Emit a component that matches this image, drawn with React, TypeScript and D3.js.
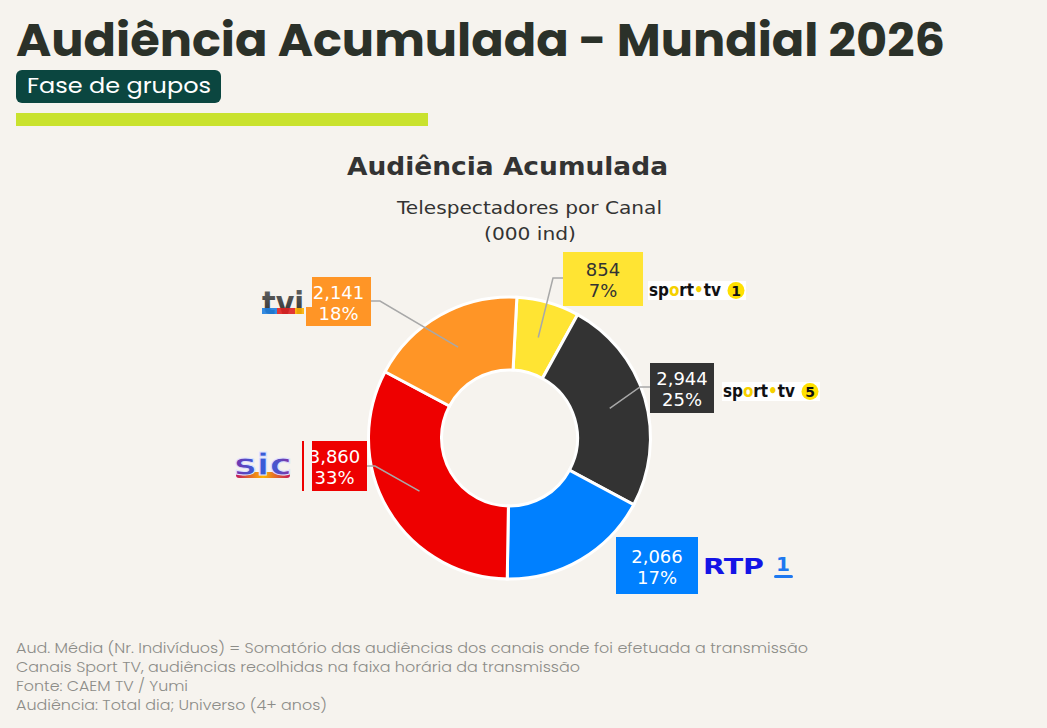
import React from "react";
import * as d3 from "d3";

const channels = ["Sport TV 1", "Sport TV 5", "RTP1", "SIC", "TVI"];
const values = [854, 2944, 2066, 3860, 2141];
const sliceColors = ["#ffe433", "#333333", "#0080ff", "#ee0000", "#ff9526"];
const labelTextColors = ["#333333", "#ffffff", "#ffffff", "#ffffff", "#ffffff"];
const footerLines = [
  "Aud. Média (Nr. Indivíduos) = Somatório das audiências dos canais onde foi efetuada a transmissão",
  "Canais Sport TV, audiências recolhidas na faixa horária da transmissão",
  "Fonte: CAEM TV / Yumi",
  "Audiência: Total dia; Universo (4+ anos)",
];

// label layout: box [x, y, w, h], elbow point (or null)
const labelLayout = [
  { box: [563, 252, 80, 54], elbow: [553, 278], side: "left" },
  { box: [650, 363, 64, 50], elbow: [640, 387], side: "left" },
  { box: [616, 537, 82, 57], elbow: null, side: "left" },
  { box: [302, 441, 65, 50], elbow: [375, 466], side: "right" },
  { box: [306, 277, 65, 49], elbow: [380, 301], side: "right" },
];

const BG = "#f6f3ee";
const VERDANA = "'DejaVu Sans', Verdana, sans-serif";

function SportTv({ x, y, n, id }: { x: number; y: number; n: string; id: string }) {
  const K = "#111111";
  const Y = "#f5d000";
  const stops: [number, string][] = [
    [0, K], [21, K], [21, Y], [31.5, Y], [31.5, K], [46.5, K], [46.5, Y], [55.5, Y], [55.5, K], [74, K],
  ];
  return (
    <g transform={`translate(${x},${y})`}>
      <defs>
        <linearGradient id={id} gradientUnits="userSpaceOnUse" x1={0} y1={0} x2={74} y2={0}>
          {stops.map(([o, c], k) => (
            <stop key={k} offset={o / 74} stopColor={c} />
          ))}
        </linearGradient>
      </defs>
      <rect x={0} y={0} width={98} height={19} fill="#ffffff" />
      <text x={1} y={15} fontFamily={VERDANA} fontWeight={700} fontSize={17} fill={`url(#${id})`} textLength={72} lengthAdjust="spacingAndGlyphs">
        sport•tv
      </text>
      <circle cx={88} cy={9.5} r={8.5} fill="#ffe000" />
      <text x={88} y={15} textAnchor="middle" fontFamily={VERDANA} fontWeight={700} fontSize={14} fill="#111">{n}</text>
    </g>
  );
}

function TviLogo({ x, y }: { x: number; y: number }) {
  return (
    <g transform={`translate(${x},${y})`}>
      <defs>
        <linearGradient id="tviG" x1="0" y1="0" x2="0" y2="1">
          <stop offset="0" stopColor="#6a6a6a" />
          <stop offset="1" stopColor="#262626" />
        </linearGradient>
        <linearGradient id="tviC" gradientUnits="userSpaceOnUse" x1={4} y1={0} x2={46} y2={0}>
          <stop offset="0" stopColor="#1e7fe0" />
          <stop offset="0.36" stopColor="#1e7fe0" />
          <stop offset="0.36" stopColor="#e02020" />
          <stop offset="0.78" stopColor="#e02020" />
          <stop offset="0.78" stopColor="#ffb000" />
          <stop offset="1" stopColor="#ffb000" />
        </linearGradient>
      </defs>
      <rect x={0} y={0} width={48} height={30} fill={BG} />
      <text x={4} y={29} fontFamily={VERDANA} fontWeight={700} fontSize={32} fill="url(#tviG)" textLength={42} lengthAdjust="spacingAndGlyphs">
        tvi
      </text>
      <rect x={4} y={23} width={42} height={6} fill="url(#tviC)" opacity={0.9} />
    </g>
  );
}

function SicLogo({ x, y }: { x: number; y: number }) {
  return (
    <g transform={`translate(${x},${y})`}>
      <defs>
        <linearGradient id="sicG" x1="0" y1="0" x2="1" y2="0">
          <stop offset="0" stopColor="#7b2fa8" />
          <stop offset="0.35" stopColor="#3b5bd6" />
          <stop offset="0.65" stopColor="#3b5bd6" />
          <stop offset="1" stopColor="#8a2f9e" />
        </linearGradient>
        <linearGradient id="sicB" x1="0" y1="0" x2="1" y2="0">
          <stop offset="0" stopColor="#c2185b" />
          <stop offset="0.5" stopColor="#ffb300" />
          <stop offset="1" stopColor="#c2185b" />
        </linearGradient>
      </defs>
      <rect x={3} y={19} width={54} height={6} rx={3} fill="url(#sicB)" />
      <text x={1} y={22} fontFamily={VERDANA} fontWeight={700} fontSize={30} fill="url(#sicG)" stroke="#dfe3ff" strokeWidth={1} textLength={58} lengthAdjust="spacingAndGlyphs">sic</text>
    </g>
  );
}

function RtpLogo({ x, y }: { x: number; y: number }) {
  return (
    <g transform={`translate(${x},${y})`}>
      <text x={0} y={18} fontFamily={VERDANA} fontWeight={700} fontSize={22} fill="#1414e6" textLength={61} lengthAdjust="spacingAndGlyphs">RTP</text>
      <text x={73} y={15} fontFamily={VERDANA} fontWeight={700} fontSize={20} fill="#1e78f0">1</text>
      <rect x={71} y={19} width={19} height={3} rx={1.5} fill="#1e78f0" />
    </g>
  );
}

export default function App() {
  const W = 1047;
  const H = 728;
  const cx = 509.5;
  const cy = 438;
  const outerR = 141;
  const innerR = 68;
  const total = d3.sum(values);
  const start = (3 * Math.PI) / 180;
  const pie = d3
    .pie<number>()
    .sort(null)
    .startAngle(start)
    .endAngle(start + 2 * Math.PI);
  const arcs = pie(values);
  const arcGen = d3.arc<d3.PieArcDatum<number>>().innerRadius(innerR).outerRadius(outerR);
  const fmtVal = d3.format(",");
  const fmtPct = d3.format(".0%");

  const logos = [
    <SportTv key="s1" id="spt1" x={648} y={281} n="1" />,
    <SportTv key="s5" id="spt5" x={722} y={382} n="5" />,
    <RtpLogo key="rtp" x={703} y={556} />,
    <SicLogo key="sic" x={233} y={453} />,
    <TviLogo key="tvi" x={258} y={285} />,
  ];

  return (
    <svg width={W} height={H} style={{ position: "fixed", left: 0, top: 0, display: "block" }}>
      <rect x={0} y={0} width={W} height={H} fill={BG} />
      <text x={16} y={56} fontFamily="Poppins, Inter, 'Open Sans', sans-serif" fontWeight={700} fontSize={46} fill="#2b3129" textLength={929} lengthAdjust="spacingAndGlyphs">
        Audiência Acumulada - Mundial 2026
      </text>
      <rect x={16} y={70} width={205} height={33} rx={6} fill="#0b4640" />
      <text x={27} y={93} fontFamily="Poppins, Inter, 'Open Sans', sans-serif" fontSize={22} fill="#ffffff" textLength={184} lengthAdjust="spacingAndGlyphs">
        Fase de grupos
      </text>
      <rect x={16} y={113} width={412} height={13} fill="#c9e22e" />

      <text x={507.5} y={175} textAnchor="middle" fontFamily={VERDANA} fontWeight={700} fontSize={25} fill="#333" textLength={321} lengthAdjust="spacingAndGlyphs">
        Audiência Acumulada
      </text>
      <text x={529.5} y={214} textAnchor="middle" fontFamily={VERDANA} fontSize={18.5} fill="#333" textLength={265} lengthAdjust="spacingAndGlyphs">
        Telespectadores por Canal
      </text>
      <text x={530} y={240} textAnchor="middle" fontFamily={VERDANA} fontSize={18.5} fill="#333" textLength={92} lengthAdjust="spacingAndGlyphs">
        (000 ind)
      </text>

      <g transform={`translate(${cx},${cy})`}>
        {arcs.map((a, i) => (
          <path key={channels[i]} d={arcGen(a) || ""} fill={sliceColors[i]} stroke="#ffffff" strokeWidth={3} />
        ))}
      </g>

      {arcs.map((a, i) => {
        const lay = labelLayout[i];
        if (!lay.elbow) return null;
        const [px, py] = arcGen.centroid(a);
        const [bx, , bw] = lay.box;
        const endX = lay.side === "left" ? bx : bx + bw;
        return (
          <polyline
            key={"l" + i}
            points={`${cx + px},${cy + py} ${lay.elbow[0]},${lay.elbow[1]} ${endX},${lay.elbow[1]}`}
            fill="none"
            stroke="#a8a8a8"
            strokeWidth={1.5}
          />
        );
      })}

      {arcs.map((a, i) => {
        const [bx, by, bw, bh] = labelLayout[i].box;
        const tx = bx + bw / 2;
        const mid = by + bh / 2;
        return (
          <g key={"b" + i}>
            <rect x={bx} y={by} width={bw} height={bh} fill={sliceColors[i]} />
            <text x={tx} y={mid - 3} textAnchor="middle" fontFamily={VERDANA} fontSize={18} fill={labelTextColors[i]}>
              {fmtVal(values[i])}
            </text>
            <text x={tx} y={mid + 18} textAnchor="middle" fontFamily={VERDANA} fontSize={18} fill={labelTextColors[i]}>
              {fmtPct(values[i] / total)}
            </text>
          </g>
        );
      })}

      {/* logo backgrounds overlapping label boxes */}
      <rect x={304} y={441} width={8} height={50} fill={BG} />
      <rect x={306} y={277} width={6} height={30} fill={BG} />
      {logos}

      {footerLines.map((t, i) => (
        <text
          key={"f" + i}
          x={16}
          y={653 + i * 19}
          fontFamily="Poppins, 'Open Sans', Lato, sans-serif"
          fontWeight={300}
          fontSize={15}
          fill="#8c8c88"
          textLength={[792, 564, 172, 311][i]}
          lengthAdjust="spacingAndGlyphs"
        >
          {t}
        </text>
      ))}
    </svg>
  );
}
